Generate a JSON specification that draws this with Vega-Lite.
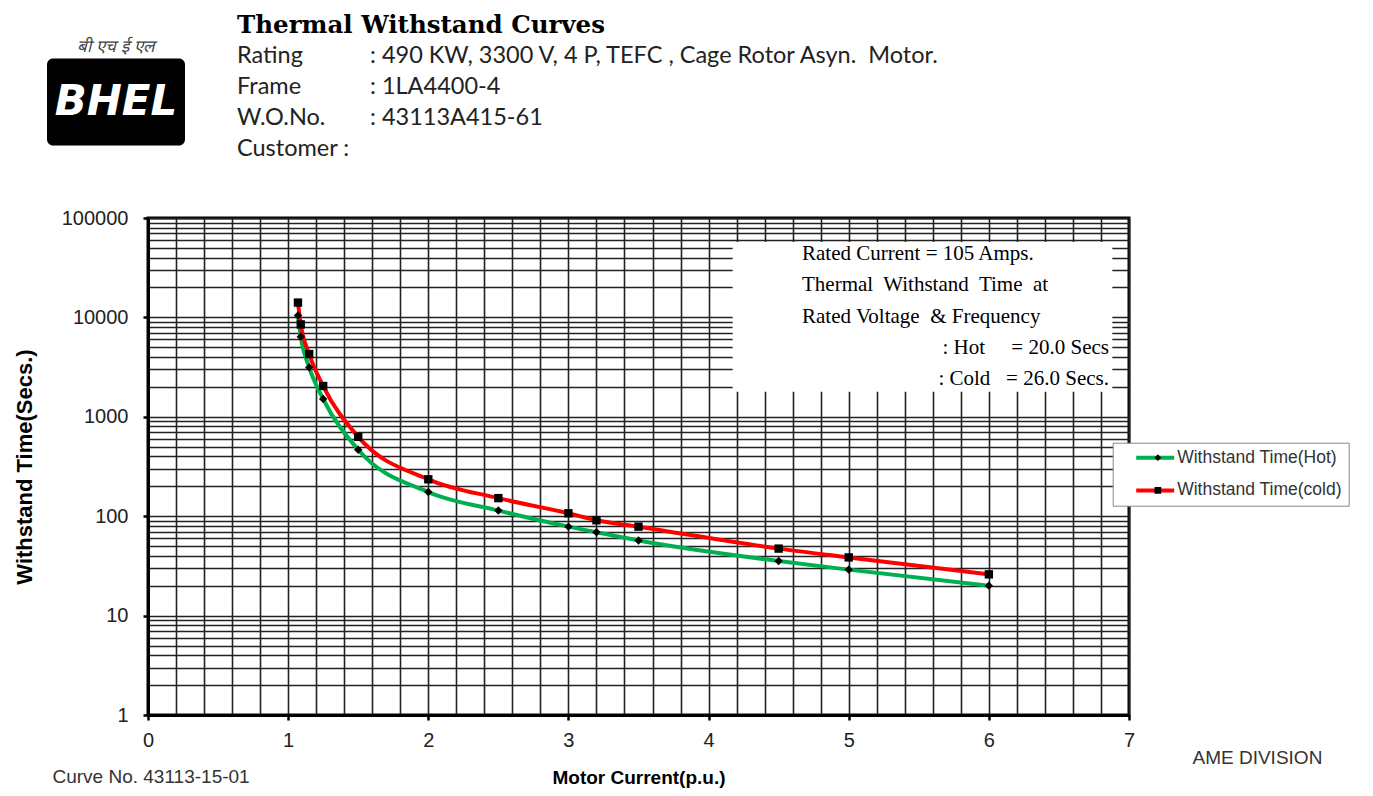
{
  "$schema": "https://vega.github.io/schema/vega-lite/v6.json",
  "background": "white",
  "padding": {"left": 10, "top": 12, "right": 0, "bottom": 0},
  "config": {"view": {"stroke": null}, "font": "Liberation Sans"},
  "spacing": 44,
  "resolve": {"legend": {"color": "independent", "shape": "independent"}},
  "datasets": {
    "curves": [
      {"current": 1.07, "time": 10450, "series": "Withstand Time(Hot)"},
      {"current": 1.09, "time": 6400, "series": "Withstand Time(Hot)"},
      {"current": 1.15, "time": 3140, "series": "Withstand Time(Hot)"},
      {"current": 1.25, "time": 1510, "series": "Withstand Time(Hot)"},
      {"current": 1.5, "time": 466, "series": "Withstand Time(Hot)"},
      {"current": 2, "time": 175, "series": "Withstand Time(Hot)"},
      {"current": 2.5, "time": 114, "series": "Withstand Time(Hot)"},
      {"current": 3, "time": 78.5, "series": "Withstand Time(Hot)"},
      {"current": 3.2, "time": 69, "series": "Withstand Time(Hot)"},
      {"current": 3.5, "time": 57, "series": "Withstand Time(Hot)"},
      {"current": 4.5, "time": 35.4, "series": "Withstand Time(Hot)"},
      {"current": 5, "time": 29, "series": "Withstand Time(Hot)"},
      {"current": 6, "time": 20, "series": "Withstand Time(Hot)"},
      {"current": 1.07, "time": 14100, "series": "Withstand Time(cold)"},
      {"current": 1.09, "time": 8500, "series": "Withstand Time(cold)"},
      {"current": 1.15, "time": 4280, "series": "Withstand Time(cold)"},
      {"current": 1.25, "time": 2040, "series": "Withstand Time(cold)"},
      {"current": 1.5, "time": 628, "series": "Withstand Time(cold)"},
      {"current": 2, "time": 235, "series": "Withstand Time(cold)"},
      {"current": 2.5, "time": 152, "series": "Withstand Time(cold)"},
      {"current": 3, "time": 107, "series": "Withstand Time(cold)"},
      {"current": 3.2, "time": 91, "series": "Withstand Time(cold)"},
      {"current": 3.5, "time": 78.5, "series": "Withstand Time(cold)"},
      {"current": 4.5, "time": 47.2, "series": "Withstand Time(cold)"},
      {"current": 5, "time": 38.5, "series": "Withstand Time(cold)"},
      {"current": 6, "time": 26, "series": "Withstand Time(cold)"}
    ],
    "header": [
      {"row": "Rating", "col": "label", "text": "Rating"},
      {"row": "Rating", "col": "value", "text": ": 490 KW, 3300 V, 4 P, TEFC , Cage Rotor Asyn.\u00a0 Motor."},
      {"row": "Frame", "col": "label", "text": "Frame"},
      {"row": "Frame", "col": "value", "text": ": 1LA4400-4"},
      {"row": "W.O.No.", "col": "label", "text": "W.O.No."},
      {"row": "W.O.No.", "col": "value", "text": ": 43113A415-61"},
      {"row": "Customer", "col": "label", "text": "Customer :"}
    ]
  },
  "vconcat": [
    {
      "spacing": 0,
      "hconcat": [
        {
          "width": 34, "height": 10,
          "data": {"values": [{}]},
          "mark": {"type": "text", "text": ""},
          "encoding": {}
        },
        {
          "spacing": 52,
          "center": true,
          "hconcat": [
            {
              "width": 138, "height": 87,
              "view": {"fill": "black", "stroke": null, "cornerRadius": 6},
              "title": {"text": "बी एच ई एल", "fontSize": 17, "fontStyle": "italic", "fontWeight": "normal", "color": "#444", "offset": 3, "anchor": "middle"},
              "data": {"values": [{}]},
              "mark": {"type": "text", "text": "BHEL", "font": "DejaVu Sans", "fontSize": 42, "fontWeight": "bold", "fontStyle": "italic", "color": "white", "align": "center", "baseline": "middle"},
              "encoding": {}
            },
            {
              "width": 133, "height": 124,
              "data": {"name": "header"},
              "title": {"text": "Thermal Withstand Curves", "anchor": "start", "font": "DejaVu Serif", "fontSize": 24.5, "fontWeight": "bold", "color": "black", "offset": 2},
              "mark": {"type": "text", "align": "left", "baseline": "middle", "font": "Lato", "fontSize": 23.5, "color": "#222"},
              "encoding": {
                "x": {"field": "col", "type": "nominal", "scale": {"type": "point", "padding": 0, "domain": ["label", "value"]}, "axis": null},
                "y": {"field": "row", "type": "nominal", "scale": {"type": "point", "padding": 0.5, "domain": ["Rating", "Frame", "W.O.No.", "Customer"]}, "axis": null},
                "text": {"field": "text"}
              }
            }
          ]
        }
      ]
    },
    {
      "bounds": "flush",
      "spacing": 0,
      "resolve": {"legend": {"color": "independent", "shape": "independent"}},
      "hconcat": [
        {
          "width": 135, "height": 497,
          "data": {"values": [{}]},
          "mark": {"type": "point", "opacity": 0},
          "encoding": {
            "x": {"datum": 0, "type": "quantitative", "scale": {"domain": [0, 1]},
              "axis": {"orient": "top", "domain": false, "ticks": false, "labels": false, "grid": false, "title": "Curve No. 43113-15-01", "titleX": 39, "titleY": 558, "titleAlign": "left", "titleBaseline": "middle", "titleAngle": 0, "titleFont": "Liberation Sans", "titleFontSize": 19, "titleFontWeight": "normal", "titleColor": "#333"}},
            "y": {"datum": 1, "type": "quantitative", "scale": {"type": "log", "domain": [1, 100000], "nice": false},
              "axis": {
                "orient": "left", "offset": -135,
                "values": [1, 2, 3, 4, 5, 6, 7, 8, 9, 10, 20, 30, 40, 50, 60, 70, 80, 90, 100, 200, 300, 400, 500, 600, 700, 800, 900, 1000, 2000, 3000, 4000, 5000, 6000, 7000, 8000, 9000, 10000, 20000, 30000, 40000, 50000, 60000, 70000, 80000, 90000, 100000],
                "labelExpr": "indexof([1, 10, 100, 1000, 10000, 100000], datum.value) >= 0 ? format(datum.value, 'd') : ''",
                "tickOpacity": {"condition": {"test": "indexof([1, 10, 100, 1000, 10000, 100000], datum.value) >= 0", "value": 1}, "value": 0},
                "labelFlush": false, "grid": false, "domain": false,
                "tickColor": "black", "tickWidth": 2.5, "tickSize": 5,
                "labelFont": "Liberation Sans", "labelFontSize": 20, "labelColor": "#222", "labelPadding": 15,
                "title": "Withstand Time(Secs.)", "titleFont": "Liberation Sans", "titleFontSize": 22, "titleFontWeight": "bold", "titleColor": "black", "titlePadding": 25
              }}
          }
        },
        {
          "width": 981, "height": 497,
          "view": {"stroke": "black", "strokeWidth": 3},
          "resolve": {"axis": {"x": "independent", "y": "independent"}},
          "layer": [
            {
              "data": {"values": [{}]},
              "mark": {"type": "rect", "fill": "white"},
              "encoding": {
                "x": {"datum": 4.172, "type": "quantitative", "scale": {"domain": [0, 7], "nice": false, "zero": false}, "axis": null},
                "x2": {"datum": 6.881},
                "y": {"datum": 57400, "type": "quantitative", "scale": {"type": "log", "domain": [1, 100000], "nice": false},
                  "axis": {"orient": "right", "domain": false, "ticks": false, "labels": false, "grid": false, "title": "AME DIVISION", "titleX": 63, "titleY": 539, "titleAlign": "left", "titleBaseline": "middle", "titleAngle": 0, "titleFont": "Liberation Sans", "titleFontSize": 19, "titleFontWeight": "normal", "titleColor": "#333"}},
                "y2": {"datum": 1790}
              }
            },
            {
              "data": {"values": [{}]},
              "mark": {"type": "text", "text": ["Rated Current = 105 Amps.", "Thermal\u00a0 Withstand\u00a0 Time\u00a0 at", "Rated Voltage\u00a0 & Frequency"], "align": "left", "baseline": "top", "lineHeight": 31.5, "font": "Liberation Serif", "fontSize": 21, "color": "black"},
              "encoding": {
                "x": {"datum": 4.667, "type": "quantitative", "scale": {"domain": [0, 7], "nice": false, "zero": false}, "axis": null},
                "y": {"datum": 56200, "type": "quantitative", "scale": {"type": "log", "domain": [1, 100000], "nice": false}, "axis": null}
              }
            },
            {
              "data": {"values": [{}]},
              "mark": {"type": "text", "text": [": Hot\u00a0\u00a0\u00a0\u00a0 = 20.0 Secs", ": Cold\u00a0\u00a0 = 26.0 Secs."], "align": "right", "baseline": "top", "lineHeight": 31.5, "font": "Liberation Serif", "fontSize": 21, "color": "black"},
              "encoding": {
                "x": {"datum": 6.857, "type": "quantitative", "scale": {"domain": [0, 7], "nice": false, "zero": false}, "axis": null},
                "y": {"datum": 6390, "type": "quantitative", "scale": {"type": "log", "domain": [1, 100000], "nice": false}, "axis": null}
              }
            },
            {
              "data": {"name": "curves"},
              "mark": {"type": "line", "interpolate": "monotone", "strokeWidth": 4},
              "encoding": {
                "x": {"field": "current", "type": "quantitative", "scale": {"domain": [0, 7], "nice": false, "zero": false},
                  "axis": {
                    "values": [0, 0.2, 0.4, 0.6, 0.8, 1, 1.2, 1.4, 1.6, 1.8, 2, 2.2, 2.4, 2.6, 2.8, 3, 3.2, 3.4, 3.6, 3.8, 4, 4.2, 4.4, 4.6, 4.8, 5, 5.2, 5.4, 5.6, 5.8, 6, 6.2, 6.4, 6.6, 6.8, 7],
                    "labelExpr": "abs(datum.value - round(datum.value)) < 0.000001 ? format(datum.value, 'd') : ''",
                    "tickOpacity": {"condition": {"test": "abs(datum.value - round(datum.value)) < 0.000001", "value": 1}, "value": 0},
                    "labelFlush": false,
                    "grid": true, "gridColor": "#222", "gridWidth": 1.6, "gridOpacity": 1,
                    "domainColor": "black", "domainWidth": 3,
                    "tickColor": "black", "tickWidth": 2.5, "tickSize": 5,
                    "labelFont": "Liberation Sans", "labelFontSize": 20, "labelColor": "#222", "labelPadding": 10,
                    "title": "Motor Current(p.u.)", "titleFont": "Liberation Sans", "titleFontSize": 19, "titleFontWeight": "bold", "titleColor": "black", "titlePadding": 18
                  }},
                "y": {"field": "time", "type": "quantitative", "scale": {"type": "log", "domain": [1, 100000], "nice": false},
                  "axis": {
                    "values": [1, 2, 3, 4, 5, 6, 7, 8, 9, 10, 20, 30, 40, 50, 60, 70, 80, 90, 100, 200, 300, 400, 500, 600, 700, 800, 900, 1000, 2000, 3000, 4000, 5000, 6000, 7000, 8000, 9000, 10000, 20000, 30000, 40000, 50000, 60000, 70000, 80000, 90000, 100000],
                    "labels": false, "ticks": false, "title": null,
                    "grid": true, "gridColor": "#222", "gridWidth": 1.6, "gridOpacity": 1,
                    "domainColor": "black", "domainWidth": 3
                  }},
                "color": {"field": "series", "type": "nominal",
                  "scale": {"domain": ["Withstand Time(Hot)", "Withstand Time(cold)"], "range": ["#00B050", "#FF0000"]},
                  "legend": {"orient": "none", "legendX": 964.7, "legendY": 224.7, "title": null, "symbolType": "stroke", "symbolSize": 1444, "symbolStrokeWidth": 4, "clipHeight": 18, "rowPadding": 14.7, "padding": 6, "symbolOffset": 15.5, "labelOffset": 1, "labelLimit": 300, "labelFont": "Liberation Sans", "labelFontSize": 17.5, "labelColor": "#333", "fillColor": "white", "strokeColor": "#888", "zindex": 0}
                }
              }
            },
            {
              "data": {"name": "curves"},
              "mark": {"type": "point", "filled": true, "color": "black", "opacity": 1, "size": 70},
              "encoding": {
                "x": {"field": "current", "type": "quantitative", "scale": {"domain": [0, 7], "nice": false, "zero": false}, "axis": null},
                "y": {"field": "time", "type": "quantitative", "scale": {"type": "log", "domain": [1, 100000], "nice": false}, "axis": null},
                "shape": {"field": "series", "type": "nominal",
                  "scale": {"range": ["diamond", "square"]},
                  "legend": {"orient": "none", "legendX": 964.7, "legendY": 224.7, "title": null, "symbolSize": 45, "symbolFillColor": "black", "symbolStrokeColor": "black", "clipHeight": 18, "rowPadding": 14.7, "padding": 6, "symbolOffset": 30.4, "labelOffset": 1, "labelExpr": "''", "labelFont": "Liberation Sans", "labelFontSize": 17.5, "zindex": 1}
                }
              }
            }
          ]
        }
      ]
    }
  ]
}
